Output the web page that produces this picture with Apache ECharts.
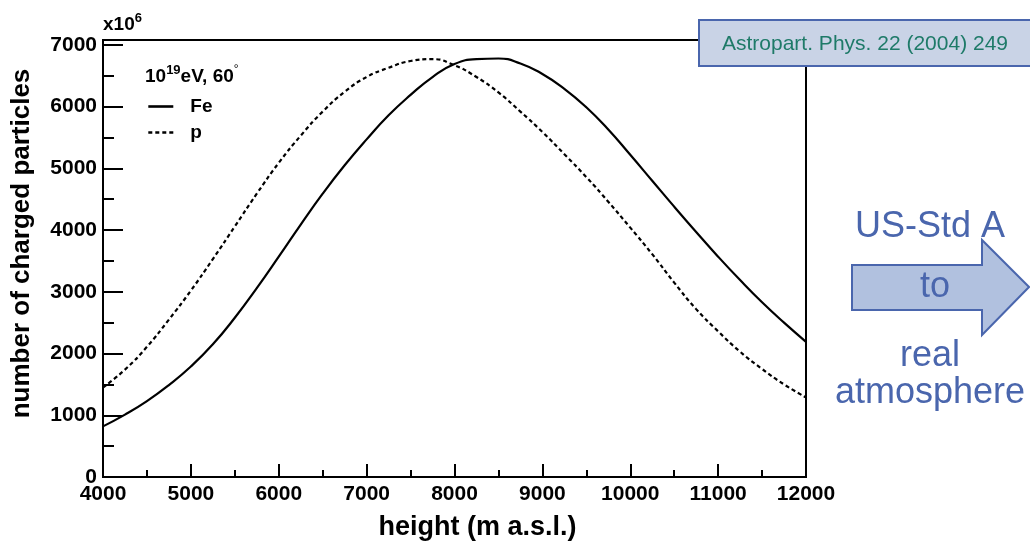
<!DOCTYPE html>
<html><head><meta charset="utf-8">
<script src="https://cdn.jsdelivr.net/npm/echarts@6/dist/echarts.min.js"></script>
<style>html,body{margin:0;padding:0;background:#fff}#c{width:1030px;height:543px}</style>
</head><body><div id="c"></div>
<script>
// height above sea level (m)
const heights = [4000,4250,4500,4750,5000,5250,5500,5750,6000,6250,6500,6750,7000,7250,7500,7750,8000,8250,8500,8750,9000,9250,9500,9750,10000,10250,10500,10750,11000,11250,11500,11750,12000];
// number of charged particles (x10^6), Fe primary (solid)
const feValues = [820,1010,1230,1490,1790,2150,2580,3060,3570,4090,4590,5050,5470,5860,6190,6480,6690,6770,6780,6700,6530,6290,5990,5630,5220,4800,4380,3970,3570,3190,2830,2500,2190];
// number of charged particles (x10^6), proton primary (dashed)
const pValues = [1450,1740,2110,2550,3020,3530,4060,4590,5090,5530,5920,6240,6480,6630,6740,6770,6670,6480,6230,5920,5590,5230,4860,4460,4040,3610,3150,2720,2360,2030,1750,1500,1290];
const seriesNames = ['Fe','p'];
const yMax = 7080;

const F = '"Liberation Sans", Arial, Helvetica, sans-serif';
const chart = echarts.init(document.getElementById('c'), null, {renderer:'canvas'});
const pair = arr => heights.map((h,i)=>[h, arr[i]]);
const blue = '#4a66ad';

const option = {
  animation:false,
  backgroundColor:'#fff',
  grid:{left:103,right:224,top:40,bottom:66,outerBoundsMode:'none',containLabel:false,
        show:true,borderColor:'#000',borderWidth:2,backgroundColor:'transparent'},
  xAxis:{
    type:'value',min:4000,max:12000,interval:1000,
    axisLine:{lineStyle:{color:'#000',width:2}},
    axisTick:{inside:true,length:13,lineStyle:{color:'#000',width:2}},
    minorTick:{show:true,splitNumber:2,length:7,lineStyle:{color:'#000',width:2}},
    splitLine:{show:false},minorSplitLine:{show:false},
    axisLabel:{color:'#000',fontFamily:F,fontWeight:'bold',fontSize:21,margin:7,formatter:v=>String(v)},
    name:'height (m a.s.l.)',nameLocation:'middle',nameGap:37,
    nameTextStyle:{color:'#000',fontFamily:F,fontWeight:'bold',fontSize:27,padding:[0,0,0,46]}
  },
  yAxis:{
    type:'value',min:0,max:yMax,interval:1000,
    axisLine:{lineStyle:{color:'#000',width:2}},
    axisTick:{inside:true,length:20,lineStyle:{color:'#000',width:2}},
    minorTick:{show:true,splitNumber:2,length:11,lineStyle:{color:'#000',width:2}},
    splitLine:{show:false},minorSplitLine:{show:false},
    axisLabel:{color:'#000',fontFamily:F,fontWeight:'bold',fontSize:21,margin:6,
      formatter:v=> (v%1000===0 ? String(v) : '')},
    name:'number of charged particles',nameLocation:'middle',nameGap:68,
    nameTextStyle:{color:'#000',fontFamily:F,fontWeight:'bold',fontSize:26,padding:[0,0,0,30]}
  },
  legend:{
    show:true,orient:'vertical',left:142,top:92,itemWidth:25,itemHeight:12,itemGap:7,
    data:seriesNames,
    itemStyle:{opacity:0,color:'rgba(0,0,0,0)',borderWidth:0},
    lineStyle:{width:2.6},
    textStyle:{color:'#000',fontFamily:F,fontWeight:'bold',fontSize:19,padding:[0,0,0,12]}
  },
  series:[
    {name:seriesNames[0],type:'line',data:pair(feValues),smooth:0.5,symbol:'none',showSymbol:false,
     lineStyle:{color:'#000',width:2.2},itemStyle:{color:'#000'},z:3},
    {name:seriesNames[1],type:'line',data:pair(pValues),smooth:0.5,symbol:'none',showSymbol:false,
     lineStyle:{color:'#000',width:2.2,type:[4,3]},itemStyle:{color:'#000'},z:3}
  ],
  graphic:[
    {type:'text',left:103,top:12,z:50,style:{
      text:'{a|x10}{s|6}',
      rich:{a:{fontFamily:F,fontWeight:'bold',fontSize:19,fill:'#000',lineHeight:26},
            s:{fontFamily:F,fontWeight:'bold',fontSize:13,fill:'#000',lineHeight:12,verticalAlign:'top'}}}},
    {type:'text',left:145,top:64,z:50,style:{
      text:'{a|10}{s|19}{a|eV, 60}{d|°}',
      rich:{a:{fontFamily:F,fontWeight:'bold',fontSize:19,fill:'#000',lineHeight:26},
            s:{fontFamily:F,fontWeight:'bold',fontSize:13,fill:'#000',lineHeight:12,verticalAlign:'top'},
            d:{fontFamily:F,fontSize:12,fill:'#000',lineHeight:12,verticalAlign:'top'}}}},
    {type:'rect',z:100,shape:{x:699,y:20,width:345,height:46},
     style:{fill:'#c9d3e6',stroke:blue,lineWidth:2}},
    {type:'text',z:101,style:{text:'Astropart. Phys. 22 (2004) 249',x:722,y:44,
      textVerticalAlign:'middle',fill:'#1e7a68',fontFamily:F,fontSize:21}},
    {type:'polygon',z:100,shape:{points:[[852,265],[982,265],[982,240],[1029,287],[982,335],[982,310],[852,310]]},
     style:{fill:'#b1c1df',stroke:blue,lineWidth:2}},
    {type:'text',z:101,style:{text:'US-Std A',x:930,y:227,textAlign:'center',textVerticalAlign:'middle',fill:blue,fontFamily:F,fontSize:36}},
    {type:'text',z:101,style:{text:'to',x:935,y:287,textAlign:'center',textVerticalAlign:'middle',fill:blue,fontFamily:F,fontSize:36}},
    {type:'text',z:101,style:{text:'real',x:930,y:356,textAlign:'center',textVerticalAlign:'middle',fill:blue,fontFamily:F,fontSize:36}},
    {type:'text',z:101,style:{text:'atmosphere',x:930,y:393,textAlign:'center',textVerticalAlign:'middle',fill:blue,fontFamily:F,fontSize:36}}
  ]
};
chart.setOption(option);
</script>
</body></html>
